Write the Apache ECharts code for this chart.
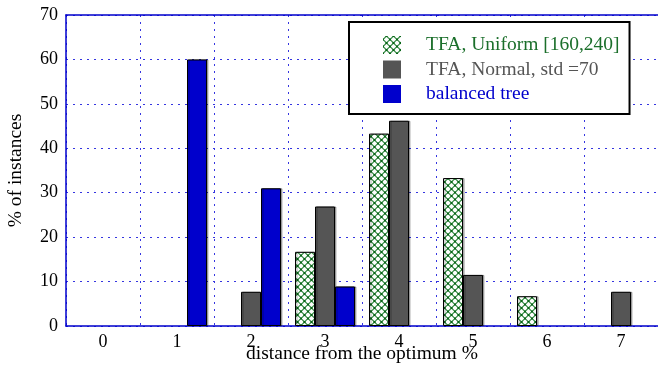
<!DOCTYPE html>
<html>
<head>
<meta charset="utf-8">
<script src="https://cdn.jsdelivr.net/npm/echarts@6/dist/echarts.min.js"></script>
<style>html,body{margin:0;padding:0;background:#fff}#c{width:658px;height:368px}</style>
</head>
<body>
<div id="c"></div>
<script>
const categories = ['0','1','2','3','4','5','6','7'];
const seriesNames = ['TFA, Uniform [160,240]', 'TFA, Normal, std =70', 'balanced tree'];
const uniformValues = ['-', '-', '-', 16.7, 43.3, 33.3, 6.7, '-'];
const normalValues  = ['-', '-', 7.7, 26.9, 46.2, 11.5, '-', 7.7];
const treeValues    = ['-', 60, 31, 8.9, '-', '-', '-', '-'];
const yTicks = { min: 0, max: 70, interval: 10 };

function makePattern() {
  const s = 7;
  const cv = document.createElement('canvas');
  cv.width = s; cv.height = s;
  const g = cv.getContext('2d');
  g.fillStyle = '#ffffff'; g.fillRect(0, 0, s, s);
  g.strokeStyle = '#3d8f4b'; g.lineWidth = 1.2;
  g.beginPath();
  g.moveTo(0, s / 2); g.lineTo(s / 2, 0); g.lineTo(s, s / 2); g.lineTo(s / 2, s); g.closePath();
  g.stroke();
  g.fillStyle = '#0b6619';
  [[0, s/2],[s/2,0],[s,s/2],[s/2,s]].forEach(p => { g.fillRect(p[0]-1, p[1]-1, 2, 2); });
  return cv;
}

const serif = 'Liberation Serif, Times New Roman, serif';
const axisBlue = '#0000cc';
const gridLine = { show: true, lineStyle: { color: '#3535e0', width: 1, type: [2, 5] } };
const barCommon = {
  type: 'bar', barWidth: 20, barGap: '0%',
  itemStyle: { borderColor: '#000', borderWidth: 1, shadowColor: 'rgba(0,0,0,0.3)', shadowOffsetX: 1.5, shadowOffsetY: 0, shadowBlur: 0 }
};

const chart = echarts.init(document.getElementById('c'), null, { renderer: 'canvas' });
chart.setOption({
  animation: false,
  grid: { left: 66, right: 0, top: 15, bottom: 42, containLabel: false, outerBoundsMode: 'none' },
  legend: {
    orient: 'vertical', left: 349, top: 22,
    padding: [13, 10, 10, 34],
    itemWidth: 18, itemHeight: 18, itemGap: 4.5,
    backgroundColor: '#fff', borderColor: '#000', borderWidth: 2, borderRadius: 0,
    textStyle: { fontFamily: serif, fontSize: 19.5, padding: [0, 0, 0, 20] },
    data: [
      { name: seriesNames[0], icon: 'rect', itemStyle: { borderWidth: 0, shadowOffsetX: 0 }, textStyle: { color: '#1b6f2b' } },
      { name: seriesNames[1], icon: 'rect', itemStyle: { borderWidth: 0, shadowOffsetX: 0 }, textStyle: { color: '#555555' } },
      { name: seriesNames[2], icon: 'rect', itemStyle: { borderWidth: 0, shadowOffsetX: 0 }, textStyle: { color: '#0000cc' } }
    ]
  },
  xAxis: [{
    type: 'category', data: categories, boundaryGap: true,
    axisLine: { lineStyle: { color: axisBlue, width: 1.5 } },
    axisTick: { show: false },
    axisLabel: { interval: 0, margin: 7, color: '#000', fontFamily: serif, fontSize: 18 },
    splitLine: Object.assign({ interval: 0 }, gridLine),
    name: 'distance from the optimum %', nameLocation: 'middle', nameGap: 18, nameMoveOverlap: false,
    nameTextStyle: { fontFamily: serif, fontSize: 19.5, color: '#000' }
  }, {
    type: 'category', data: categories, position: 'top',
    axisLine: { lineStyle: { color: axisBlue, width: 1.5 } },
    axisTick: { show: false }, axisLabel: { show: false }, splitLine: { show: false }
  }],
  yAxis: {
    type: 'value', min: yTicks.min, max: yTicks.max, interval: yTicks.interval,
    axisLine: { show: true, lineStyle: { color: axisBlue, width: 1.5 } },
    axisTick: { show: false },
    axisLabel: { margin: 8, color: '#000', fontFamily: serif, fontSize: 18 },
    splitLine: gridLine,
    name: '% of instances', nameLocation: 'middle', nameGap: 40, nameRotate: 90, nameMoveOverlap: false,
    nameTextStyle: { fontFamily: serif, fontSize: 19.5, color: '#000' }
  },
  series: [
    Object.assign({}, barCommon, { name: seriesNames[0], data: uniformValues,
      itemStyle: Object.assign({}, barCommon.itemStyle, { color: { image: makePattern(), repeat: 'repeat' } }) }),
    Object.assign({}, barCommon, { name: seriesNames[1], data: normalValues,
      itemStyle: Object.assign({}, barCommon.itemStyle, { color: '#555555' }) }),
    Object.assign({}, barCommon, { name: seriesNames[2], data: treeValues,
      itemStyle: Object.assign({}, barCommon.itemStyle, { color: '#0000cc' }) })
  ]
});
</script>
</body>
</html>
